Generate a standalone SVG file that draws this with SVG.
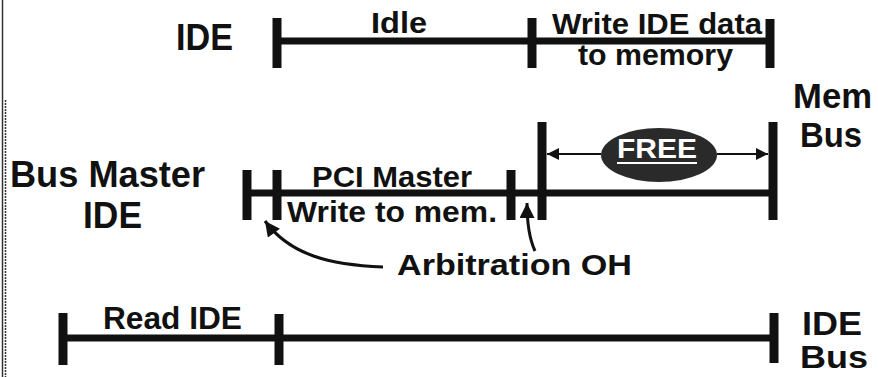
<svg xmlns="http://www.w3.org/2000/svg" width="878" height="377" viewBox="0 0 878 377">
<style>
text{font-family:"Liberation Sans",Arial,sans-serif;font-weight:bold;fill:#111}
.bar{stroke:#111;stroke-width:7;fill:none}
.tick{stroke:#111;stroke-width:9;fill:none}
.thin{stroke:#111;stroke-width:2;fill:none}
.curve{stroke:#111;stroke-width:3;fill:none}
.border{stroke:#333;stroke-width:1.5}
</style>
<defs>
<marker id="ah" viewBox="0 0 10 10" refX="10" refY="5" markerWidth="18" markerHeight="12" markerUnits="userSpaceOnUse" orient="auto"><path d="M0,0 L10,5 L0,10 Z" fill="#111"/></marker>
<marker id="ah2" viewBox="0 0 10 10" refX="10" refY="5" markerWidth="20" markerHeight="15" markerUnits="userSpaceOnUse" orient="auto"><path d="M0,0 L10,5 L0,10 Z" fill="#111"/></marker>
</defs>
<rect width="878" height="377" fill="#fff"/>
<g id="border">
<line class="border" x1="2.5" y1="0" x2="2.5" y2="377"/>
<line class="border" x1="5.5" y1="100" x2="5.5" y2="377" stroke-dasharray="2,1"/>
</g>
<g id="ide-row">
<text x="176" y="50" font-size="37" textLength="57" lengthAdjust="spacingAndGlyphs">IDE</text>
<line class="bar" x1="277" y1="41" x2="771" y2="41"/>
<line class="tick" x1="277" y1="18" x2="277" y2="68"/>
<line class="tick" x1="532" y1="18" x2="532" y2="68"/>
<line class="tick" x1="770" y1="19" x2="770" y2="68"/>
<text x="371" y="33" font-size="29" textLength="56" lengthAdjust="spacingAndGlyphs">Idle</text>
<text x="552" y="34" font-size="29" textLength="210" lengthAdjust="spacingAndGlyphs">Write IDE data</text>
<text x="578" y="65" font-size="29" textLength="155" lengthAdjust="spacingAndGlyphs">to memory</text>
</g>
<g id="bus-master-row">
<text x="10" y="187" font-size="36" textLength="195" lengthAdjust="spacingAndGlyphs">Bus Master</text>
<text x="83" y="228" font-size="36" textLength="59" lengthAdjust="spacingAndGlyphs">IDE</text>
<line class="bar" x1="247" y1="193" x2="542" y2="193"/>
<line class="tick" x1="247" y1="170" x2="247" y2="220"/>
<line class="tick" x1="277" y1="170" x2="277" y2="220"/>
<line class="tick" x1="511" y1="170" x2="511" y2="220"/>
<text x="312" y="187" font-size="30" textLength="160" lengthAdjust="spacingAndGlyphs">PCI Master</text>
<text x="287" y="222" font-size="30" textLength="210" lengthAdjust="spacingAndGlyphs">Write to mem.</text>
</g>
<g id="mem-bus-row">
<line class="bar" x1="542" y1="193" x2="773" y2="193"/>
<line class="tick" x1="542" y1="122" x2="542" y2="220"/>
<line class="tick" x1="773" y1="122" x2="773" y2="220"/>
<text x="793" y="108" font-size="35" textLength="79" lengthAdjust="spacingAndGlyphs">Mem</text>
<text x="800" y="147" font-size="35" textLength="62" lengthAdjust="spacingAndGlyphs">Bus</text>
</g>
<g id="free">
<ellipse cx="659" cy="155" rx="58" ry="27" fill="#2a2a2a"/>
<text x="617" y="158" font-size="28" textLength="80" lengthAdjust="spacingAndGlyphs" style="fill:#fff">FREE</text>
<line x1="617" y1="163" x2="697" y2="163" stroke="#fff" stroke-width="2"/>
</g>
<g id="ide-bus-row">
<line class="bar" x1="63" y1="338" x2="774" y2="338"/>
<line class="tick" x1="63" y1="313" x2="63" y2="365"/>
<line class="tick" x1="279" y1="314" x2="279" y2="365"/>
<line class="tick" x1="774" y1="313" x2="774" y2="363"/>
<text x="103" y="329" font-size="31" textLength="139" lengthAdjust="spacingAndGlyphs">Read IDE</text>
<text x="802" y="335" font-size="34" textLength="60" lengthAdjust="spacingAndGlyphs">IDE</text>
<text x="800" y="368" font-size="31" textLength="68" lengthAdjust="spacingAndGlyphs">Bus</text>
</g>
<g id="arbitration">
<text x="397" y="275" font-size="29" textLength="235" lengthAdjust="spacingAndGlyphs">Arbitration OH</text>
</g>
<g id="connectors">
<line class="thin" x1="601" y1="154" x2="547" y2="154" marker-end="url(#ah)"/>
<line class="thin" x1="717" y1="154" x2="768" y2="154" marker-end="url(#ah)"/>
<path class="curve" d="M383,267 C330,265 290,255 265,221" marker-end="url(#ah2)"/>
<path class="curve" d="M535,251 C529,238 527,222 527,203" marker-end="url(#ah2)"/>
</g>
</svg>
